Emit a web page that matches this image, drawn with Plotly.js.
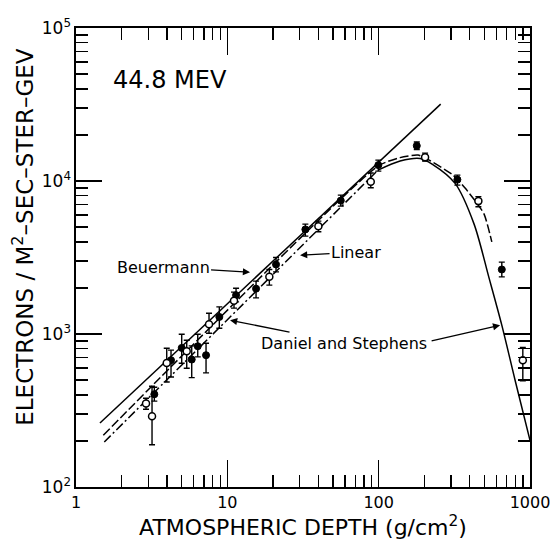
<!DOCTYPE html>
<html>
<head>
<meta charset="utf-8">
<script src="https://cdn.plot.ly/plotly-3.0.1.min.js"></script>
<style>html,body{margin:0;padding:0;background:#fff;}#chart{width:554px;height:542px;}</style>
</head>
<body>
<div id="chart"></div>
<script>
// ---- data ----
const beuermannX = [1.44, 257];
const beuermannY = [262, 31800];

const linearX = [1.515, 99.1, 138.5, 182.1, 218.7, 310.2, 372.4, 440.5, 497.4, 559.3];
const linearY = [218, 12520, 14220, 14770, 13560, 10930, 8985, 7278, 6074, 4003];

const danielLowX = [1.538, 99.1];
const danielLowY = [197, 11785];
const danielHighX = [99.1, 138.5, 187.7, 225.4, 319.9, 427.1, 536.6, 651.1, 797, 1000];
const danielHighY = [11785, 13500, 14050, 12900, 9645, 5226, 2317, 1142, 498.7, 202];

const filledX  = [3.293, 4.245, 4.995, 5.817, 6.375, 7.233, 8.853, 11.42, 15.48, 20.98, 32.78, 56.18, 99.5, 178.6, 331.3, 651.1];
const filledY  = [404, 674, 811, 681, 832, 727, 1293, 1794, 1979, 2848, 4825, 7444, 12700, 16990, 10210, 2641];
const filledHi = [449, 784, 997, 836, 997, 871, 1504, 1993, 2215, 3165, 5226, 8088, 13700, 17970, 10930, 2949];
const filledLo = [364, 524, 644, 519, 709, 557, 1091, 1622, 1722, 2548, 4362, 6853, 11610, 16050, 9402, 2363];

const openX  = [2.902, 3.180, 3.977, 5.391, 7.568, 11.07, 18.95, 39.96, 88.67, 202.6, 456.0, 896.5];
const openY  = [351, 290, 647, 772, 1159, 1647, 2363, 5070, 9880, 14270, 7387, 674];
const openHi = [380, 456, 807, 911, 1368, 1877, 2641, 5466, 11270, 15220, 7907, 816];
const openLo = [322, 189, 486, 597, 1012, 1475, 2086, 4654, 9026, 13500, 6781, 494];

const xTickVals = [1, 10, 100, 1000];
const xTickText = ['1', '10', '100', '1000'];
const yTickVals = [100, 1000, 10000, 100000];
const yTickText = ['10<sup>2</sup>', '10<sup>3</sup>', '10<sup>4</sup>', '10<sup>5</sup>'];

// ---- helpers ----
function minorVals(lo, hi) {
  const v = [];
  for (let d = lo; d < hi; d++) for (let k = 2; k <= 9; k++) v.push(k * Math.pow(10, d));
  return v;
}
const diff = (a, b) => a.map((v, i) => v - b[i]);

const FONT = 'DejaVu Sans, Liberation Sans, Arial, sans-serif';
const lw = 1.5;

const traces = [
  {x: beuermannX, y: beuermannY, mode: 'lines', line: {color: '#000', width: lw}, hoverinfo: 'skip'},
  {x: linearX, y: linearY, mode: 'lines', line: {color: '#000', width: lw, dash: '9px,3px', shape: 'spline', smoothing: 0.6}, hoverinfo: 'skip'},
  {x: danielLowX, y: danielLowY, mode: 'lines', line: {color: '#000', width: lw, dash: '9px,3px,2px,3px'}, hoverinfo: 'skip'},
  {x: danielHighX, y: danielHighY, mode: 'lines', line: {color: '#000', width: lw, shape: 'spline', smoothing: 0.8}, hoverinfo: 'skip'},
  {x: filledX, y: filledY, mode: 'markers',
   marker: {color: '#000', size: 7, line: {color: '#000', width: 1}},
   error_y: {type: 'data', symmetric: false, array: diff(filledHi, filledY), arrayminus: diff(filledY, filledLo),
             color: '#000', thickness: 1.4, width: 3}},
  {x: openX, y: openY, mode: 'markers',
   marker: {color: '#fff', size: 7, line: {color: '#000', width: 1.5}},
   error_y: {type: 'data', symmetric: false, array: diff(openHi, openY), arrayminus: diff(openY, openLo),
             color: '#000', thickness: 1.4, width: 3}}
];

const L = Math.log10;
const arrowCommon = {showarrow: true, arrowhead: 2, arrowsize: 1.1, arrowwidth: 1.3, arrowcolor: '#000',
                     font: {family: FONT, size: 16, color: '#000'}, xref: 'x', yref: 'y'};

const layout = {
  width: 554, height: 542,
  margin: {l: 76, r: 24, t: 28, b: 55},
  paper_bgcolor: '#fff', plot_bgcolor: '#fff',
  showlegend: false,
  font: {family: FONT, color: '#000'},
  xaxis: {
    type: 'log', range: [0, 3],
    tickmode: 'array', tickvals: xTickVals, ticktext: xTickText,
    ticks: 'inside', ticklen: 27, tickwidth: 1.3, tickcolor: '#000',
    minor: {tickmode: 'array', tickvals: minorVals(0, 3), ticks: 'inside', ticklen: 12, tickwidth: 1.3, tickcolor: '#000'},
    showline: true, linecolor: '#000', linewidth: 1.6, mirror: 'ticks',
    showgrid: false, zeroline: false,
    tickfont: {family: FONT, size: 16, color: '#000'},
    title: {text: 'ATMOSPHERIC DEPTH (g/cm<sup>2</sup>)', font: {family: FONT, size: 22, color: '#000'}, standoff: 4}
  },
  yaxis: {
    type: 'log', range: [2, 5],
    tickmode: 'array', tickvals: yTickVals, ticktext: yTickText,
    ticks: 'inside', ticklen: 26, tickwidth: 1.3, tickcolor: '#000',
    minor: {tickmode: 'array', tickvals: minorVals(2, 5), ticks: 'inside', ticklen: 12, tickwidth: 1.3, tickcolor: '#000'},
    showline: true, linecolor: '#000', linewidth: 1.6, mirror: 'ticks',
    showgrid: false, zeroline: false,
    tickfont: {family: FONT, size: 17, color: '#000'}
  },
  annotations: [
    {xref: 'paper', yref: 'paper', x: -0.117, y: 0.545, xanchor: 'center', yanchor: 'middle', textangle: -90,
     text: 'ELECTRONS / M<sup>2</sup>\u2013SEC\u2013STER\u2013GEV', showarrow: false,
     font: {family: FONT, size: 23, color: '#000'}},
    {x: L(4.18), y: L(45700), xref: 'x', yref: 'y', text: '44.8 MEV', showarrow: false,
     font: {family: FONT, size: 24, color: '#000'}},
    Object.assign({}, arrowCommon, {x: L(14.13), y: L(2536), text: 'Beuermann', ax: -87, ay: -5}),
    Object.assign({}, arrowCommon, {x: L(30.24), y: L(3276), text: 'Linear', ax: 56, ay: -3}),
    Object.assign({}, arrowCommon, {x: L(10.42), y: L(1231), text: 'Daniel and Stephens', ax: 114, ay: 23}),
    Object.assign({}, arrowCommon, {x: L(634.6), y: L(1142), text: '', ax: -70, ay: 16})
  ]
};

Plotly.newPlot('chart', traces, layout, {staticPlot: true, displayModeBar: false});
</script>
</body>
</html>
